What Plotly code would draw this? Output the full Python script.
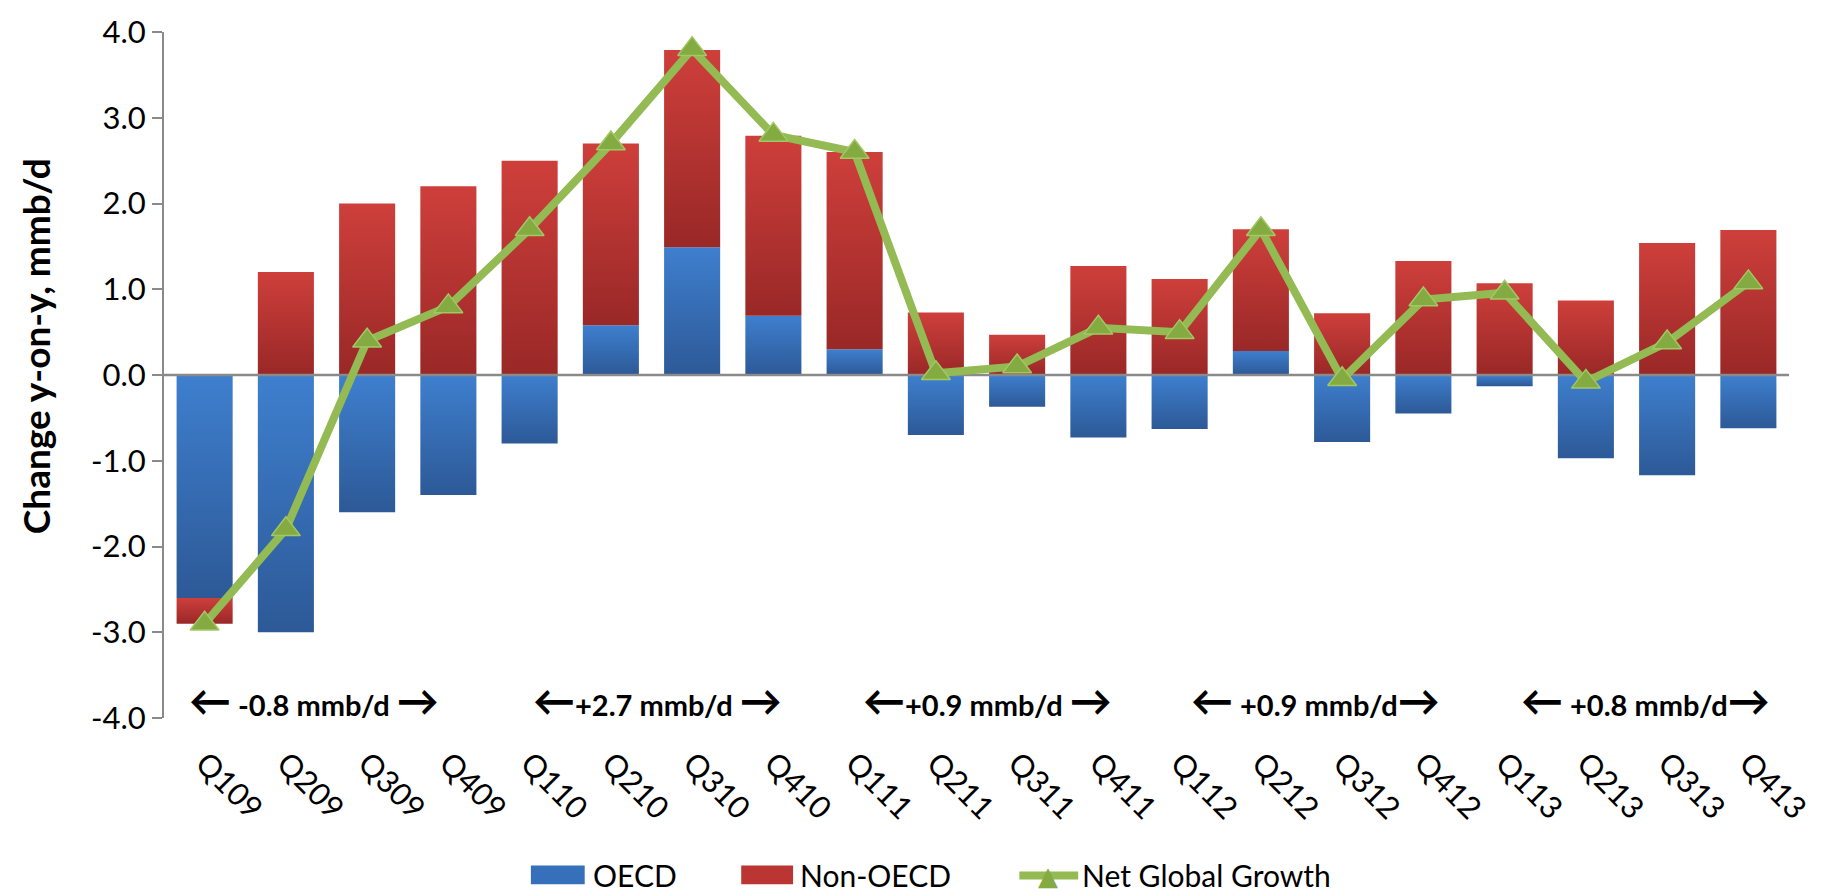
import plotly.graph_objects as go

# Quarterly oil demand growth, year on year (mmb/d)
quarters = ["Q109", "Q209", "Q309", "Q409", "Q110", "Q210", "Q310", "Q410",
            "Q111", "Q211", "Q311", "Q411", "Q112", "Q212", "Q312", "Q412",
            "Q113", "Q213", "Q313", "Q413"]
oecd = [-2.6, -3.0, -1.6, -1.4, -0.8, 0.58, 1.49, 0.69, 0.30, -0.70,
        -0.37, -0.73, -0.63, 0.28, -0.78, -0.45, -0.13, -0.97, -1.17, -0.62]
non_oecd = [-0.3, 1.2, 2.0, 2.2, 2.5, 2.12, 2.30, 2.10, 2.30, 0.73,
            0.47, 1.27, 1.12, 1.42, 0.72, 1.33, 1.07, 0.87, 1.54, 1.69]
net_growth = [-2.9, -1.8, 0.4, 0.8, 1.7, 2.7, 3.8, 2.8, 2.6, 0.02,
              0.1, 0.55, 0.5, 1.7, -0.05, 0.88, 0.96, -0.08, 0.38, 1.08]

# Average growth for each year (four quarters per group)
year_labels = ["-0.8 mmb/d", "+2.7 mmb/d", "+0.9 mmb/d", "+0.9 mmb/d", "+0.8 mmb/d"]

# y-axis ticks
y_ticks = [-4, -3, -2, -1, 0, 1, 2, 3, 4]

W, H = 1827, 892
ML, MR, MT, MB = 164, 33, 25, 174
PW, PH = W - ML - MR, H - MT - MB

BAR_W = 0.69
X_LO, X_HI = -0.5, len(quarters) - 0.5

BLUE = ("#2d5997", "#3e7fce")   # bottom, top
RED = ("#992827", "#ce3f3b")
GREEN = "#93ba53"
FONT = "Lato, 'DejaVu Sans', sans-serif"


def px_x(p):
    return (p - ML) / PW


def px_y(p):
    return (MT + PH - p) / PH


fig = go.Figure()

# stacked bars: negatives stack downward from zero, positives upward
pos_base = [0.0] * len(quarters)
neg_base = [0.0] * len(quarters)
for series, cols in ((oecd, BLUE), (non_oecd, RED)):
    for i, v in enumerate(series):
        if v >= 0:
            lo, hi = pos_base[i], pos_base[i] + v
            pos_base[i] = hi
        else:
            lo, hi = neg_base[i] + v, neg_base[i]
            neg_base[i] = lo
        x0, x1 = i - BAR_W / 2, i + BAR_W / 2
        fig.add_trace(go.Scatter(
            x=[x0, x1, x1, x0, x0], y=[lo, lo, hi, hi, lo],
            mode="lines", fill="toself", line=dict(width=0),
            fillcolor=cols[1],
            fillgradient=dict(type="vertical",
                              colorscale=[[0, cols[0]], [1, cols[1]]]),
            hoverinfo="skip", showlegend=False))

# zero reference line drawn over the bars
fig.add_trace(go.Scatter(x=[X_LO, X_HI], y=[0, 0], mode="lines",
                         line=dict(color="#8a8a8a", width=2.5),
                         hoverinfo="skip", showlegend=False))

# net global growth
fig.add_trace(go.Scatter(
    x=list(range(len(quarters))), y=net_growth, mode="lines+markers",
    name="Net Global Growth",
    line=dict(color=GREEN, width=8),
    marker=dict(symbol="triangle-up", size=25, color="#84ab42",
                line=dict(color="#a2c765", width=1.5)),
    showlegend=False))

# yearly average labels with arrows
label_x = [1.34, 5.57, 9.63, 13.67, 17.73]
arrow = "<span style='font-size:42px'>{}</span>"
left_gap = [" ", "", "", " ", " "]
right_gap = [" ", " ", " ", "", ""]
for xv, txt, lg, rg in zip(label_x, year_labels, left_gap, right_gap):
    fig.add_annotation(
        x=xv, y=-3.79, xref="x", yref="y", showarrow=False,
        text="<b>" + arrow.format("←") + lg + txt + rg + arrow.format("→") + "</b>",
        font=dict(family=FONT, size=29, color="black"))

# axis title
fig.add_annotation(x=px_x(35), y=px_y(342), xref="paper", yref="paper",
                   text="<b>Change y-on-y, mmb/d</b>", textangle=-90,
                   showarrow=False, xanchor="center", yanchor="middle",
                   font=dict(family=FONT, size=37, color="black"))

# legend
ly = 877
fig.add_shape(type="rect", xref="paper", yref="paper",
              x0=px_x(532), x1=px_x(586), y0=px_y(886), y1=px_y(867),
              fillcolor="#3670ba", line=dict(width=0))
fig.add_shape(type="rect", xref="paper", yref="paper",
              x0=px_x(743), x1=px_x(795), y0=px_y(886), y1=px_y(867),
              fillcolor="#bb3533", line=dict(width=0))
fig.add_shape(type="line", xref="paper", yref="paper",
              x0=px_x(1022), x1=px_x(1081), y0=px_y(ly), y1=px_y(ly),
              line=dict(color=GREEN, width=8))
fig.add_annotation(x=px_x(1051), y=px_y(ly + 1), xref="paper", yref="paper",
                   text="▲", showarrow=False, yanchor="middle",
                   font=dict(family="DejaVu Sans", size=26, color="#84ab42"))
for px, name in ((592, "OECD"), (800, "Non-OECD"), (1083, "Net Global Growth")):
    fig.add_annotation(x=px_x(px), y=px_y(ly), xref="paper", yref="paper",
                       text=name, showarrow=False, xanchor="left",
                       yanchor="middle",
                       font=dict(family=FONT, size=30, color="black"))

fig.update_layout(
    width=W, height=H,
    margin=dict(l=ML, r=MR, t=MT, b=MB),
    paper_bgcolor="white", plot_bgcolor="white",
    showlegend=False,
    font=dict(family=FONT, size=30, color="black"),
    xaxis=dict(range=[X_LO, X_HI], tickmode="array",
               tickvals=list(range(len(quarters))), ticktext=quarters,
               tickangle=45, showline=False, showgrid=False, zeroline=False,
               ticks="", ticklabelstandoff=20,
               tickfont=dict(family=FONT, size=31)),
    yaxis=dict(range=[-4, 4], tickmode="array", tickvals=y_ticks,
               ticktext=[f"{v:.1f}" for v in y_ticks],
               showline=True, linecolor="#8a8a8a", linewidth=2,
               ticks="outside", ticklen=10, tickwidth=2, tickcolor="#8a8a8a",
               showgrid=False, zeroline=False, ticklabelstandoff=0,
               tickfont=dict(family=FONT, size=31)),
)

fig.write_html("out.html")
